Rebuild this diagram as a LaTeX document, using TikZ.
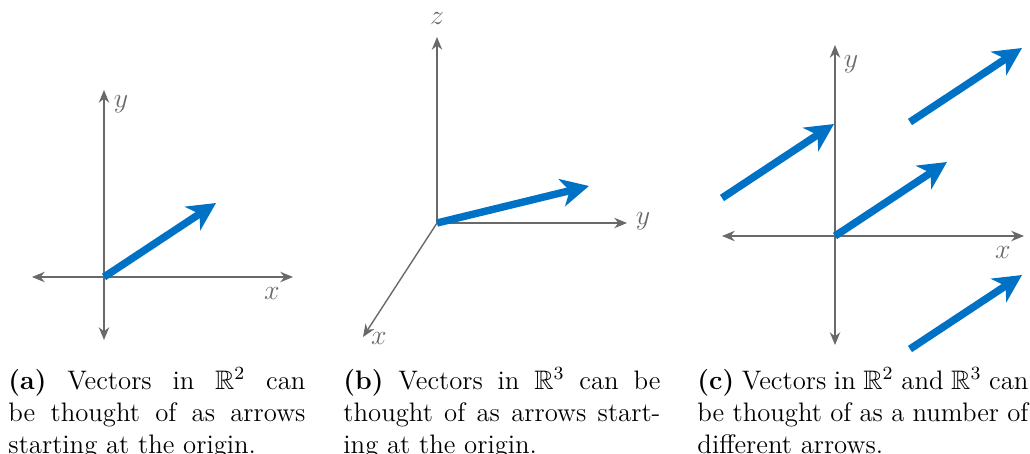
\documentclass[tikz,border=0pt]{standalone}
\usepackage{amssymb}
\usetikzlibrary{arrows.meta}
\definecolor{vecblue}{RGB}{0,114,198}
\definecolor{axisgray}{RGB}{105,105,105}
\tikzset{
  axis/.style={axisgray, line width=0.6pt, -{Stealth[length=5.5pt,width=4.5pt]}},
  axisboth/.style={axisgray, line width=0.6pt, {Stealth[length=5.5pt,width=4.5pt]}-{Stealth[length=5.5pt,width=4.5pt]}},
  vec/.style={vecblue, line width=3.2pt, -{Stealth[length=12pt,width=12pt,inset=3.5pt]}},
  axlabel/.style={text=axisgray, inner sep=0pt, font=\fontsize{12}{14}\selectfont},
  captext/.style={anchor=north west, inner sep=0pt, align=justify, font=\fontsize{11.5}{13.8}\selectfont},
}
\begin{document}
\begin{tikzpicture}[x=0.43pt, y=-0.43pt]
  \useasboundingbox (0,0) rectangle (1030,453);

  % (a)
  \coordinate (ao) at (104,277);
  \coordinate (axl) at (32,277);
  \coordinate (axr) at (293,277);
  \coordinate (ayt) at (104,90);
  \coordinate (ayb) at (104,340);
  \coordinate (av) at (216,203);
  \draw[axisboth] (axl) -- (axr);
  \draw[axisboth] (ayb) -- (ayt);
  \node[axlabel] (ax) at (272,293) {$x$};
  \node[axlabel] (ay) at (121,104) {$y$};
  \draw[vec] (ao) -- (av);

  % (b)
  \coordinate (bo) at (437,223);
  \coordinate (bx) at (363,337);
  \coordinate (by) at (627,223);
  \coordinate (bz) at (437,37);
  \coordinate (bv) at (589,186);
  \draw[axis] (bo) -- (bx);
  \draw[axis] (bo) -- (by);
  \draw[axis] (bo) -- (bz);
  \node[axlabel] (bxl) at (379,338) {$x$};
  \node[axlabel] (byl) at (643,221) {$y$};
  \node[axlabel] (bzl) at (437,18) {$z$};
  \draw[vec] (bo) -- (bv);

  % (c)
  \coordinate (co) at (835,236);
  \coordinate (cxl) at (722,236);
  \coordinate (cxr) at (1024,236);
  \coordinate (cyt) at (835,45);
  \coordinate (cyb) at (835,345);
  \draw[axisboth] (cxl) -- (cxr);
  \draw[axisboth] (cyb) -- (cyt);
  \node[axlabel] (cx) at (1003,252) {$x$};
  \node[axlabel] (cy) at (851,64) {$y$};
  \foreach \sx/\sy [count=\i] in {835/236, 722/198, 910/122, 910/349} {
    \coordinate (cs\i) at (\sx,\sy);
    \coordinate (ce\i) at (\sx+112,\sy-74);
    \draw[vec] (cs\i) -- (ce\i);
  }

  % captions
  \node[captext, text width=297*0.43pt] (capa) at (8,367)
    {\textbf{(a)} Vectors in $\mathbb{R}^2$ can\linebreak be thought of as arrows\linebreak starting at the origin.};
  \node[captext, text width=317*0.43pt] (capb) at (343,367)
    {\textbf{(b)} Vectors in $\mathbb{R}^3$ can be\linebreak thought of as arrows start-\linebreak ing at the origin.};
  \node[captext, text width=331*0.43pt] (capc) at (697,367)
    {\textbf{(c)} Vectors in $\mathbb{R}^2$ and $\mathbb{R}^3$ can\linebreak be thought of as a number of\linebreak different arrows.};
\end{tikzpicture}
\end{document}
